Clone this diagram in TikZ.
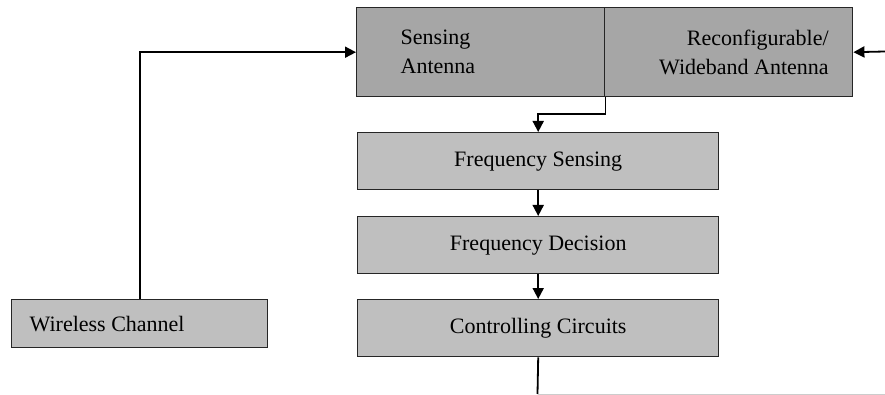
\documentclass[tikz,border=0pt]{standalone}
\usepackage{fontspec}
\setmainfont{Liberation Serif}
\usetikzlibrary{arrows.meta}

\begin{document}
\begin{tikzpicture}[x=1pt,y=-1pt,>={Triangle[length=11pt,width=11pt]},
  darkbox/.style={draw=black!85,line width=1.4pt,fill=black!35,minimum width=248pt,minimum height=89pt,anchor=north west,font=\fontsize{22}{29}\selectfont},
  lightbox/.style={draw=black!85,line width=1.4pt,fill=black!25,minimum width=361pt,minimum height=57pt,anchor=north west,font=\fontsize{22}{26}\selectfont},
  link/.style={line width=1.8pt,->}]
  \useasboundingbox (0,0) rectangle (885,395);
  % antenna block
  \node[darkbox,text width=160pt,inner xsep=44pt,align=left] (sense) at (356,7) {\spaceskip=0pt Sensing\\Antenna};
  \node[darkbox,text width=200pt,inner xsep=24pt,align=right] (reconf) at (604,7) {Reconfigurable/\\\mbox{\spaceskip=0pt Wideband Antenna}\hspace*{10pt}};
  % processing chain
  \node[lightbox] (fsense) at (357,132) {Frequency Sensing};
  \node[lightbox] (fdec) at (357,216) {Frequency Decision};
  \node[lightbox] (ctrl) at (357,299) {Controlling Circuits};
  \node[lightbox,minimum width=256pt,minimum height=48pt,text width=220pt,inner xsep=18pt,align=left] (wchan) at (11,299) {\spaceskip=0pt Wireless Channel};
  \coordinate (rin) at (885,51.5);
  \coordinate (cend) at (537.5,394);
  \coordinate (gend) at (885,394);
  % connectors
  \draw[link] (wchan.north) |- (sense.west);
  \draw[link] (rin) -- (reconf.east);
  \draw[link] (sense.south east) -- ++(0,17) -| (fsense.north);
  \draw[link] (fsense.south) -- (fdec.north);
  \draw[link] (fdec.south) -- (ctrl.north);
  \draw[line width=1.8pt] (ctrl.south) -- (cend);
  \draw[black!20,line width=1pt] (cend) -- (gend);
\end{tikzpicture}
\end{document}
